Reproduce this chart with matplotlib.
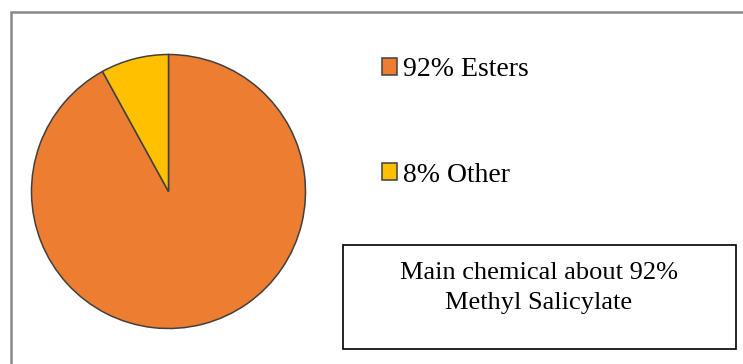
import matplotlib.pyplot as plt
from matplotlib.patches import Rectangle

plt.rcParams['font.family'] = ['Liberation Serif', 'DejaVu Serif']

labels = ['92% Esters', '8% Other']
values = [92, 8]
colors = ['#ED7D31', '#FFC000']
note = 'Main chemical about 92%\nMethyl Salicylate'

W, H = 743, 364
fig = plt.figure(figsize=(W / 100, H / 100), dpi=100)

# outer chart border (right and bottom cut off in the reference)
fig.patches.append(Rectangle((11 / W, -0.1), 1.2, (H - 12) / H + 0.1,
                             transform=fig.transFigure, fill=False,
                             edgecolor='#898989', linewidth=1.8))

# pie
cx, cy, r = 168.5, 191.5, 137
ax = fig.add_axes([(cx - r) / W, (H - cy - r) / H, 2 * r / W, 2 * r / H])
wedges, _ = ax.pie(values, colors=colors, startangle=90, counterclock=False,
                   wedgeprops=dict(edgecolor='#404040', linewidth=1.1))
ax.set_xlim(-1, 1)
ax.set_ylim(-1, 1)
ax.axis('off')

leg = fig.legend(wedges, labels, loc='upper left',
                 bbox_to_anchor=(371 / W, 1 - 46 / H), frameon=False,
                 fontsize=20, handlelength=0.55, handleheight=0.55,
                 handletextpad=0.2, labelspacing=2.9, borderaxespad=0)
for h in leg.legend_handles:
    h.set_edgecolor('#404040')
    h.set_linewidth(1.1)

# note box
fig.patches.append(Rectangle((343 / W, 1 - 349 / H), (736 - 343) / W, 104 / H,
                             transform=fig.transFigure, fill=False,
                             edgecolor='black', linewidth=1.2))
fig.text(539 / W, 1 - 262 / H, note, ha='center', va='top', fontsize=19,
         linespacing=1.45)

fig.savefig('out.png', dpi=100)
